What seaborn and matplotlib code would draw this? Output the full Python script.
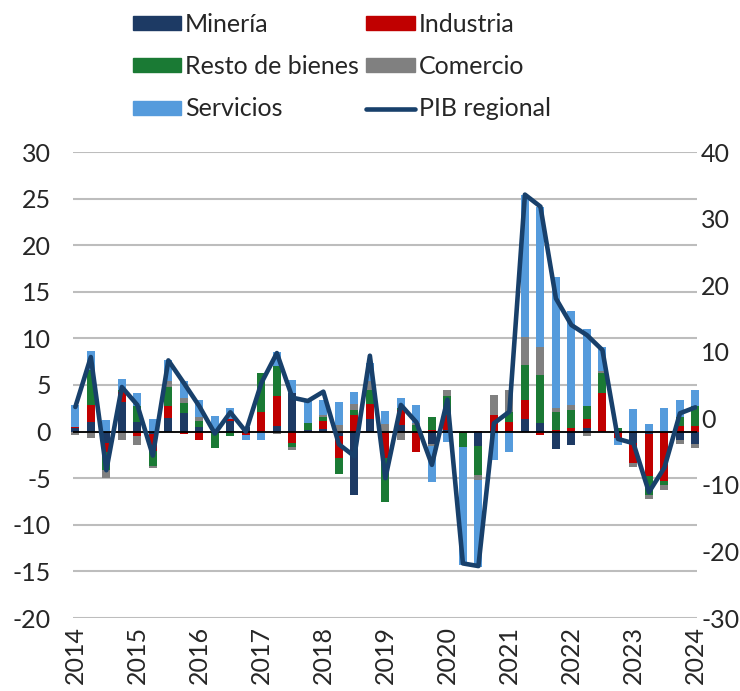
import numpy as np
import pandas as pd
import matplotlib.pyplot as plt
import matplotlib.patches as mpatches
from matplotlib.lines import Line2D
import seaborn as sns

# quarterly contributions (pp), 2014Q1 .. 2024Q1, left axis
mineria = [0.35, 1.0, -1.2, 3.2, 1.0, -0.3, 1.5, 2.0, 0.5, 0.0, 1.1, 0.5, 0.0, 0.6, 4.1, 0.2, 0.3, -0.5, -6.8, 1.3,
           0.0, 0.7, 0.0, -1.3, 0.2, 0.0, -1.5, 0.0, 0.1, 1.4, 0.9, -1.9, -1.4, 0.4, 0.0, 0.0, -1.25, -0.3, 0.0, -0.9, -1.3]
industria = [0.1, 1.9, -1.0, 1.1, -0.5, -1.8, 1.2, -0.3, -0.9, 0.0, 0.2, -0.4, 2.15, 3.2, -1.25, 0.0, 0.8, -2.35, 1.8, 1.7,
             -2.8, 1.6, -2.15, 0.2, 1.6, -0.1, 0.1, 1.8, 0.9, 2.0, -0.35, 0.15, 0.4, 0.9, 4.1, -0.7, -2.15, -4.5, -5.3, 0.6, 0.6]
resto = [0.0, 3.7, -1.9, 0.2, 1.8, -1.6, 2.1, 1.1, 0.6, -1.8, -0.5, 0.0, 4.1, 3.2, -0.35, 0.7, 0.45, -1.75, 0.5, 1.5,
         -4.8, 0.2, 0.7, 1.4, 2.0, -1.6, -3.2, 0.0, 1.1, 3.75, 5.2, 2.0, 1.9, 1.4, 2.15, 0.4, 0.0, -1.95, -0.4, 1.0, 2.2]
comercio = [-0.4, -0.7, -0.9, -0.9, -0.9, -0.2, 0.6, 0.5, 0.5, 0.0, 0.0, 0.0, 0.0, -0.3, -0.4, 0.0, 0.25, 0.7, 0.7, 0.9,
            0.8, -0.9, 0.2, -0.2, 0.7, 0.0, -0.5, 2.1, 2.4, 3.05, 3.0, 0.35, 0.6, -0.5, 0.3, 0.0, -0.35, -0.5, -0.6, -0.4, -0.5]
servicios = [2.4, 2.1, 1.2, 1.1, 1.3, 1.3, 2.3, 1.8, 1.8, 1.7, 1.2, -0.5, -0.9, 1.5, 1.4, 2.5, 1.6, 2.5, 1.2, 2.0,
             1.4, 1.1, 2.0, -3.9, -1.1, -12.6, -9.3, -3.0, -2.15, 15.2, 15.0, 14.1, 10.0, 8.3, 2.5, -0.7, 2.4, 0.8, 2.5, 1.8, 1.7]
# PIB regional (% a/a), right axis
pib = [1.7, 9.2, -7.8, 4.7, 2.0, -5.6, 8.7, 5.3, 1.8, -2.3, 0.9, -2.0, 5.3, 9.8, 3.1, 2.6, 4.0, -3.9, -5.7, 9.4,
       -9.0, 2.0, -0.6, -7.0, 2.8, -21.8, -22.2, -0.75, 1.0, 33.6, 31.8, 18.0, 14.0, 12.5, 10.25, -3.1, -3.75, -11.1, -7.4, 0.75, 1.65]
years = [str(y) for y in range(2014, 2025)]

series = {"Minería": mineria, "Industria": industria, "Resto de bienes": resto,
          "Comercio": comercio, "Servicios": servicios}
colors = {"Minería": "#1d3a64", "Industria": "#c00000", "Resto de bienes": "#1a7a34",
          "Comercio": "#808080", "Servicios": "#559bdc"}
line_color = "#18406b"

sns.set_theme(style="white")
plt.rcParams['font.family'] = ['Lato', 'DejaVu Sans']
plt.rcParams['axes.unicode_minus'] = False
fs = 18
txt = "#262626"

fig = plt.figure(figsize=(7.4, 6.91), dpi=100)
ax = fig.add_axes([73 / 740, 1 - 618 / 691, 624 / 740, 466 / 691])

x = np.arange(len(pib))
pos = np.zeros(len(x))
neg = np.zeros(len(x))
for name, vals in series.items():
    v = np.array(vals)
    bottom = np.where(v >= 0, pos, neg)
    ax.bar(x, v, bottom=bottom, width=0.52, color=colors[name], linewidth=0, zorder=2, clip_on=False)
    pos = pos + np.clip(v, 0, None)
    neg = neg + np.clip(v, None, 0)

ax.axhline(0, color="black", lw=1.3, zorder=3)
ax.set_ylim(-20, 30)
ax.set_yticks(range(-20, 31, 5))
ax.set_xlim(-0.15, 40.1)
ax.set_xticks(range(0, 41, 4))
ax.set_xticklabels(years, rotation=90)
ax.grid(axis="y", color="#bdbdbd", lw=1.5)
ax.set_axisbelow(True)
ax.tick_params(axis="y", length=0, pad=16, labelsize=fs, labelcolor=txt)
ax.tick_params(axis="x", length=0, pad=6, labelsize=fs, labelcolor=txt)
for s in ax.spines.values():
    s.set_visible(False)

ax2 = ax.twinx()
df = pd.DataFrame({"q": x, "pib": pib})
sns.lineplot(data=df, x="q", y="pib", ax=ax2, color=line_color, lw=3.3, zorder=4)
ax2.set_ylim(-30, 40)
ax2.set_yticks(range(-30, 41, 10))
ax2.set_xlim(-0.15, 40.1)
ax2.set_xlabel("")
ax2.set_ylabel("")
ax2.tick_params(axis="y", length=0, pad=3, labelsize=fs, labelcolor=txt)
for s in ax2.spines.values():
    s.set_visible(False)

handles = [mpatches.Patch(color=colors["Minería"]), mpatches.Patch(color=colors["Resto de bienes"]),
           mpatches.Patch(color=colors["Servicios"]), mpatches.Patch(color=colors["Industria"]),
           mpatches.Patch(color=colors["Comercio"]), Line2D([], [], color=line_color, lw=3.3)]
labels = ["Minería", "Resto de bienes", "Servicios", "Industria", "Comercio", "PIB regional"]
fig.legend(handles, labels, ncol=2, loc="upper left", bbox_to_anchor=(120 / 740, 1.0),
           frameon=False, fontsize=fs, handlelength=1.95, handleheight=0.5, handletextpad=0.15,
           columnspacing=0.3, labelspacing=0.78, borderaxespad=0.1, labelcolor=txt)

fig.savefig("out.png", dpi=100)
